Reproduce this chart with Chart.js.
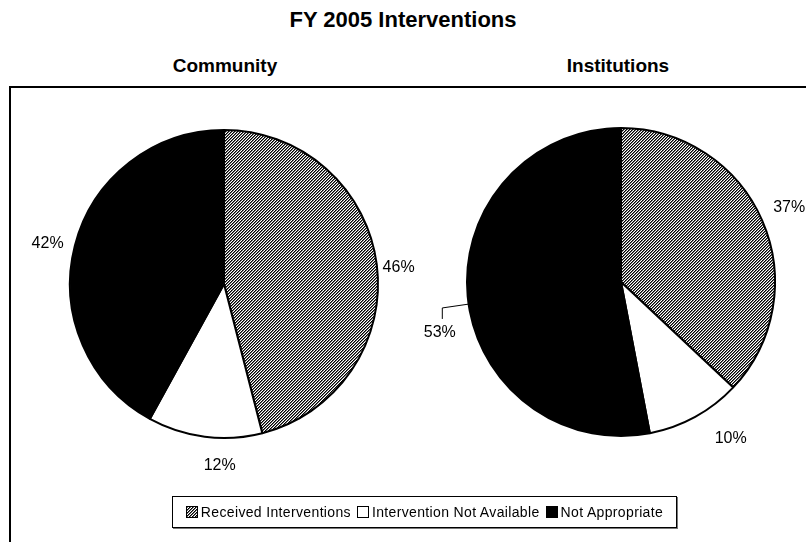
<!DOCTYPE html>
<html>
<head>
<meta charset="utf-8">
<script src="https://cdn.jsdelivr.net/npm/chart.js@4.4.0/dist/chart.umd.min.js"></script>
<style>
  html, body { margin: 0; padding: 0; background: #fff; }
  body { width: 806px; height: 542px; position: relative; overflow: hidden; font-family: "Liberation Sans", Arial, sans-serif; }
  canvas { position: absolute; left: 0; top: 0; }
  .title { position: absolute; top: 7px; left: 0; width: 806px; text-align: center; font-weight: bold; font-size: 22px; }
  .sub { position: absolute; top: 55px; font-weight: bold; font-size: 19px; text-align: center; width: 300px; }
  .frame { position: absolute; left: 9px; top: 86px; width: 900px; height: 600px; border-top: 2px solid #000; border-left: 2px solid #000; }
  #legend { position: absolute; left: 172px; top: 496px; width: 503px; height: 30px; border: 1px solid #000; box-shadow: 1px 1px 0 #777; background: #fff;
            display: flex; align-items: center; justify-content: center; font-size: 14px; letter-spacing: 0.35px; }
  .item { display: flex; align-items: center; margin: 0 3px; }
  .sw { width: 10px; height: 10px; border: 1px solid #000; margin-right: 3px; }
</style>
</head>
<body>
<div class="frame"></div>
<div class="title" id="mainTitle"></div>
<div class="sub" id="sub0" style="left:75px"></div>
<div class="sub" id="sub1" style="left:468px"></div>
<canvas id="community" width="806" height="542"></canvas>
<canvas id="institutions" width="806" height="542"></canvas>
<div id="legend"></div>
<script>
const mainTitle = 'FY 2005 Interventions';
const chartTitles = ['Community', 'Institutions'];
const categories = ['Received Interventions', 'Intervention Not Available', 'Not Appropriate'];
const communityValues = [46, 12, 42];
const institutionValues = [37, 10, 53];

document.getElementById('mainTitle').textContent = mainTitle;
document.getElementById('sub0').textContent = chartTitles[0];
document.getElementById('sub1').textContent = chartTitles[1];

// fine diagonal hatch, like the old excel fill
function makeHatch() {
    const c = document.createElement('canvas');
    c.width = 3; c.height = 3;
    const g = c.getContext('2d');
    g.fillStyle = '#fff';
    g.fillRect(0, 0, 3, 3);
    for (let y = 0; y < 3; y++) {
        const x = 2 - y;
        g.fillStyle = '#000';
        g.fillRect(x, y, 1, 1);
        g.fillStyle = '#6e6e6e';
        g.fillRect((x + 1) % 3, y, 1, 1);
    }
    return c;
}
const hatchCanvas = makeHatch();
const hatch = hatchCanvas.getContext('2d').createPattern(hatchCanvas, 'repeat');
const sliceColors = [hatch, '#ffffff', '#000000'];

// percent labels outside the pie, with optional leader line
const outsideLabels = {
    id: 'outsideLabels',
    afterDatasetsDraw(chart, args, opts) {
        const ctx = chart.ctx;
        const meta = chart.getDatasetMeta(0);
        const data = chart.data.datasets[0].data;
        ctx.save();
        ctx.font = '16px "Liberation Sans", Arial, sans-serif';
        ctx.fillStyle = '#000';
        ctx.strokeStyle = '#000';
        ctx.lineWidth = 1;
        ctx.textAlign = 'center';
        ctx.textBaseline = 'middle';
        meta.data.forEach((arc, i) => {
            const p = arc.getProps(['x', 'y', 'startAngle', 'endAngle', 'outerRadius'], true);
            const mid = (p.startAngle + p.endAngle) / 2;
            const d = p.outerRadius + opts.gap;
            let lx = p.x + Math.cos(mid) * d;
            let ly = p.y + Math.sin(mid) * d;
            const sh = opts.shift[i] || [0, 0];
            lx += sh[0];
            ly += sh[1];
            if (opts.leader === i) {
                const kx = lx + 2.5, ky = ly - 25;
                const a = Math.atan2(ky - p.y, kx - p.x);
                ctx.beginPath();
                ctx.moveTo(kx, ly - 14);
                ctx.lineTo(kx, ky);
                ctx.lineTo(p.x + Math.cos(a) * p.outerRadius, p.y + Math.sin(a) * p.outerRadius);
                ctx.stroke();
            }
            ctx.fillText(data[i] + '%', lx, ly);
        });
        ctx.restore();
    }
};

function makePie(id, values, padding, labelOpts) {
    return new Chart(document.getElementById(id), {
        type: 'pie',
        data: {
            labels: categories,
            datasets: [{
                data: values,
                backgroundColor: sliceColors,
                borderColor: '#000',
                borderWidth: 2
            }]
        },
        options: {
            responsive: false,
            animation: false,
            layout: { padding },
            plugins: {
                legend: { display: false },
                tooltip: { enabled: false },
                outsideLabels: labelOpts
            }
        },
        plugins: [outsideLabels]
    });
}

makePie('community', communityValues, { left: 69, right: 427, top: 129, bottom: 103 },
    { gap: 24, shift: [[-2, 6], [18, 5], [-4, 4]] });
makePie('institutions', institutionValues, { left: 466, right: 30, top: 127, bottom: 105 },
    { gap: 26, shift: [[3, -3], [23, -1], [-2, 34]], leader: 2 });

// legend
const legend = document.getElementById('legend');
categories.forEach((name, i) => {
    const item = document.createElement('div');
    item.className = 'item';
    const sw = document.createElement('span');
    sw.className = 'sw';
    if (i === 0) sw.style.backgroundImage = 'url(' + hatchCanvas.toDataURL() + ')';
    else sw.style.background = sliceColors[i];
    item.appendChild(sw);
    const t = document.createElement('span');
    t.textContent = name;
    item.appendChild(t);
    legend.appendChild(item);
});
</script>
</body>
</html>
